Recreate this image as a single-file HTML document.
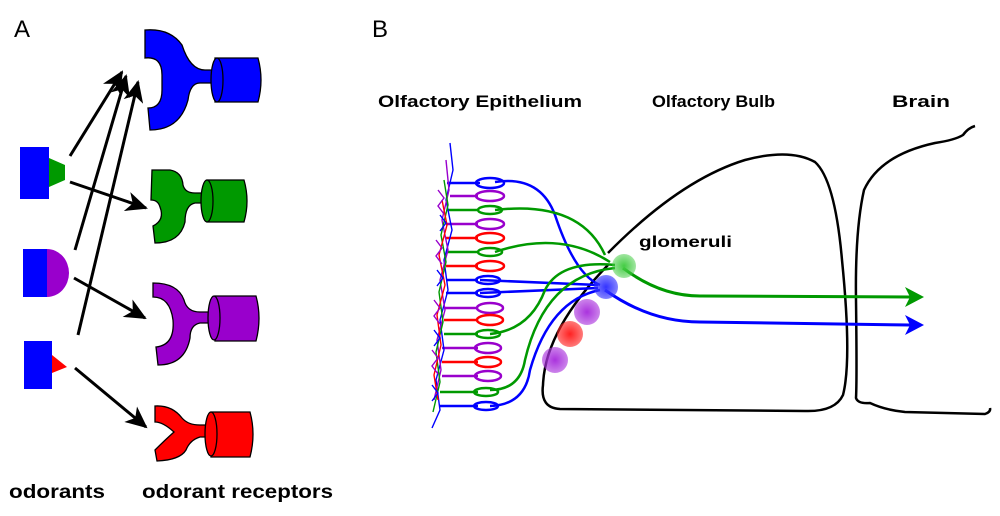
<!DOCTYPE html>
<html><head><style>
html,body{margin:0;padding:0;background:#fff;}
svg{display:block;}
text{font-family:"Liberation Sans",sans-serif;}
</style></head><body>
<svg width="1000" height="516" viewBox="0 0 1000 516" xmlns="http://www.w3.org/2000/svg">
<defs>
<marker id="ah" markerWidth="22" markerHeight="20" refX="20" refY="10" orient="auto" markerUnits="userSpaceOnUse" viewBox="0 0 22 20"><path d="M0,0 L22,10 L0,20 L6,10Z" fill="#000"/></marker>
<radialGradient id="gg"><stop offset="0" stop-color="#4c4"/><stop offset="1" stop-color="#4c4" stop-opacity="0.5"/></radialGradient>
<radialGradient id="gb"><stop offset="0" stop-color="#33f"/><stop offset="1" stop-color="#33f" stop-opacity="0.6"/></radialGradient>
<radialGradient id="gp"><stop offset="0" stop-color="#a3d"/><stop offset="1" stop-color="#a3d" stop-opacity="0.6"/></radialGradient>
<radialGradient id="gr"><stop offset="0" stop-color="#f22"/><stop offset="1" stop-color="#f22" stop-opacity="0.6"/></radialGradient>
</defs>
<text x="14" y="37" font-size="24">A</text>
<text x="372" y="37" font-size="24">B</text>

<!-- receptors -->
<g stroke="#000" stroke-width="1.3">
 <path d="M145,30 Q170,28 182,45 Q190,70 205,70 L212,70 L212,83 L200,83 Q190,83 188,100 Q180,130 150,130 L148,108 Q162,108 162,90 L162,75 Q162,56 145,58Z" fill="#00f"/>
 <path d="M215,58 L258,58 Q264,80 258,102 L215,102Z" fill="#00f"/>
 <ellipse cx="217" cy="80" rx="6" ry="22" fill="#00f"/>
 <path d="M152,170 L170,170 Q182,172 183,185 Q185,193 195,193 L205,193 L205,203 L195,203 Q185,205 185,222 Q180,243 155,243 L153,226 Q165,220 160,207 Q158,200 151,200Z" fill="#090"/>
 <path d="M207,180 L244,180 Q250,201 244,222 L207,222Z" fill="#090"/>
 <ellipse cx="207" cy="201" rx="6" ry="21" fill="#090"/>
 <path d="M153,283 Q178,283 184,300 Q187,312 200,312 L213,312 L213,323 L200,323 Q190,325 190,338 Q185,365 158,365 L156,347 Q175,345 173,320 Q170,297 153,297Z" fill="#90c"/>
 <path d="M215,296 L256,296 Q262,318 256,341 L215,341Z" fill="#90c"/>
 <ellipse cx="214" cy="318" rx="6" ry="22" fill="#90c"/>
 <path d="M155,406 Q172,405 182,418 Q188,425 200,425 L209,425 L209,437 L200,437 Q190,440 186,450 Q180,460 157,461 L155,450 Q165,440 174,432 Q163,422 155,422Z" fill="#f00"/>
 <path d="M211,412 L250,412 Q256,434 250,457 L211,457Z" fill="#f00"/>
 <ellipse cx="211" cy="434" rx="6" ry="22" fill="#f00"/>
</g>
<!-- odorants -->
<rect x="20" y="147" width="29" height="52" fill="#00f"/>
<path d="M49,158 L65,165 L65,180 L49,187Z" fill="#090"/>
<rect x="23" y="249" width="24" height="48" fill="#00f"/>
<path d="M47,249 A22,24 0 0 1 47,297Z" fill="#90c"/>
<rect x="24" y="341" width="28" height="48" fill="#00f"/>
<path d="M52,355 L67,367 L52,373Z" fill="#f00"/>
<!-- arrows -->
<g stroke="#000" stroke-width="3" fill="none" marker-end="url(#ah)">
 <line x1="70" y1="156" x2="122" y2="72"/>
 <line x1="75" y1="250" x2="126" y2="76"/>
 <line x1="78" y1="335" x2="138" y2="82"/>
 <line x1="70" y1="182" x2="146" y2="208"/>
 <line x1="74" y1="278" x2="145" y2="318"/>
 <line x1="75" y1="368" x2="146" y2="427"/>
</g>
<text x="9" y="498" font-size="19" font-weight="bold" textLength="96" lengthAdjust="spacingAndGlyphs">odorants</text>
<text x="142" y="498" font-size="19" font-weight="bold" textLength="191" lengthAdjust="spacingAndGlyphs">odorant receptors</text>

<text x="378" y="107" font-size="17" font-weight="bold" textLength="204" lengthAdjust="spacingAndGlyphs">Olfactory Epithelium</text>
<text x="652" y="107" font-size="17" font-weight="bold" textLength="123" lengthAdjust="spacingAndGlyphs">Olfactory Bulb</text>
<text x="892" y="107" font-size="17" font-weight="bold" textLength="58" lengthAdjust="spacingAndGlyphs">Brain</text>
<text x="639" y="247" font-size="16" font-weight="bold" textLength="93" lengthAdjust="spacingAndGlyphs">glomeruli</text>

<path d="M608,253 Q680,180 745,160 Q790,148 815,162 Q835,180 842,260 Q852,360 843,395 Q835,412 805,411 L560,409 Q540,408 543,385 Q545,330 608,265" fill="none" stroke="#000" stroke-width="2.5"/>
<path d="M975,126 Q968,128 963,135 Q955,140 935,143 Q880,155 864,190 Q855,230 856,300 Q857,380 856,398 Q858,404 870,403 Q885,410 905,412 L985,414 Q991,412 990,408" fill="none" stroke="#000" stroke-width="2.5"/>

<g fill="none" stroke-width="2.5">
 <path d="M495,182 Q540,175 555,215 Q575,275 600,285" stroke="#00f"/>
 <path d="M495,210 Q580,200 605,255" stroke="#090"/>
 <path d="M495,252 Q560,230 610,262" stroke="#090"/>
 <path d="M480,280 L598,285" stroke="#00f"/>
 <path d="M480,293 L598,288" stroke="#00f"/>
 <path d="M490,334 Q530,330 545,290 Q560,260 615,265" stroke="#090"/>
 <path d="M490,390 Q520,390 525,360 Q545,275 615,268" stroke="#090"/>
 <path d="M490,406 Q525,405 530,370 Q550,300 600,290" stroke="#00f"/>
 <path d="M623,268 Q660,296 700,296 L910,297" stroke="#090" stroke-width="3"/>
 <path d="M605,290 Q650,322 700,322 L910,325" stroke="#00f" stroke-width="3"/>
</g>
<path d="M905,287 L924,297 L905,307 L910,297Z" fill="#090"/>
<path d="M905,315 L924,325 L905,335 L910,325Z" fill="#00f"/>

<circle cx="624" cy="266" r="12" fill="url(#gg)"/>
<circle cx="606" cy="287" r="12" fill="url(#gb)"/>
<circle cx="587" cy="312" r="13" fill="url(#gp)"/>
<circle cx="570" cy="334" r="13" fill="url(#gr)"/>
<circle cx="555" cy="360" r="13" fill="url(#gp)"/>

<g fill="none" stroke-width="2.5">
 <g stroke="#00f"><path d="M447,183 L480,183"/><ellipse cx="490" cy="183" rx="14" ry="5"/></g>
 <g stroke="#90c"><path d="M450,196 L478,196"/><ellipse cx="490" cy="196" rx="14" ry="5"/></g>
 <g stroke="#090"><path d="M448,210 L478,210"/><ellipse cx="490" cy="210" rx="12" ry="4"/></g>
 <g stroke="#90c"><path d="M446,224 L478,224"/><ellipse cx="490" cy="224" rx="14" ry="5"/></g>
 <g stroke="#f00"><path d="M446,238 L478,238"/><ellipse cx="490" cy="238" rx="14" ry="5"/></g>
 <g stroke="#090"><path d="M446,252 L478,252"/><ellipse cx="490" cy="252" rx="12" ry="4"/></g>
 <g stroke="#f00"><path d="M446,266 L478,266"/><ellipse cx="490" cy="266" rx="14" ry="5"/></g>
 <g stroke="#00f"><path d="M446,280 L478,280"/><ellipse cx="488" cy="280" rx="12" ry="4"/></g>
 <g stroke="#00f"><path d="M446,293 L478,293"/><ellipse cx="488" cy="293" rx="12" ry="4"/></g>
 <g stroke="#90c"><path d="M444,308 L478,308"/><ellipse cx="490" cy="308" rx="13" ry="5"/></g>
 <g stroke="#f00"><path d="M444,320 L478,320"/><ellipse cx="490" cy="320" rx="13" ry="5"/></g>
 <g stroke="#090"><path d="M444,334 L478,334"/><ellipse cx="488" cy="334" rx="12" ry="4"/></g>
 <g stroke="#90c"><path d="M442,348 L478,348"/><ellipse cx="488" cy="348" rx="13" ry="5"/></g>
 <g stroke="#f00"><path d="M442,362 L478,362"/><ellipse cx="488" cy="362" rx="13" ry="5"/></g>
 <g stroke="#90c"><path d="M442,376 L478,376"/><ellipse cx="488" cy="376" rx="13" ry="5"/></g>
 <g stroke="#090"><path d="M440,392 L478,392"/><ellipse cx="486" cy="392" rx="12" ry="4"/></g>
 <g stroke="#00f"><path d="M440,406 L478,406"/><ellipse cx="486" cy="406" rx="12" ry="4"/></g>
</g>
<g fill="none" stroke-width="1.4">
 <path d="M450,143 L453,170 L446,200 L452,230 L444,260 L448,290 L440,320 L444,350 L436,380 L440,410 L432,428" stroke="#00f"/>
 <path d="M446,160 L449,190 L442,220 L448,250 L440,280 L445,310 L437,340 L441,370 L434,400" stroke="#90c"/>
 <path d="M444,180 L448,205 L441,235 L446,262 L439,292 L443,322 L436,352 L440,382 L433,412" stroke="#090"/>
 <path d="M442,200 L447,225 L439,255 L445,285 L437,315 L441,345 L434,375 L438,400" stroke="#f00"/>
 <path d="M438,190 l6,8 -6,8 6,8 M436,240 l6,8 -6,8 6,8 M434,300 l6,8 -6,8 6,8 M432,350 l6,8 -6,8 6,8" stroke="#90c"/>
 <path d="M440,215 l6,8 -6,8 M437,270 l6,8 -6,8 M434,330 l6,8 -6,8 M432,385 l6,8 -6,8" stroke="#00f"/>
</g>
</svg>
</body></html>
